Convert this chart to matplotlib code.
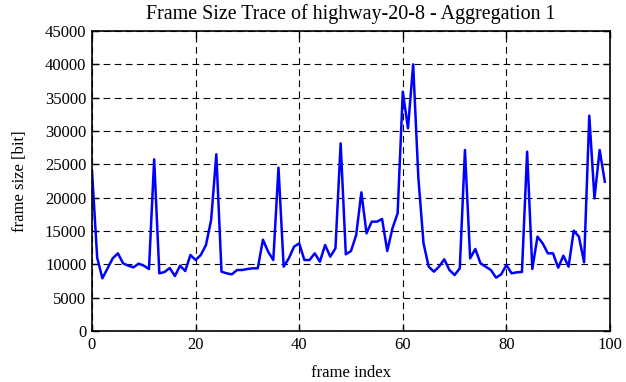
import numpy as np
import matplotlib
matplotlib.use("Agg")
import matplotlib.pyplot as plt

# frame sizes (bits), one per frame index 0..99
frame_size = [
    24000, 11000, 7900, 9400, 10900, 11650, 10150, 9800, 9550, 10100,
    9800, 9300, 25750, 8650, 8850, 9450, 8250, 9800, 9000, 11400,
    10650, 11400, 12900, 16650, 26500, 8900, 8650, 8500, 9150, 9150,
    9300, 9400, 9400, 13700, 11900, 10650, 24500, 9650, 10900, 12650,
    13150, 10650, 10650, 11650, 10400, 12900, 11150, 12400, 28150, 11500,
    12000, 14400, 20800, 14650, 16400, 16400, 16800, 12000, 15400, 17650,
    35900, 30400, 40000, 23000, 13150, 9650, 8900, 9650, 10750, 9150,
    8400, 9400, 27150, 10900, 12300, 10150, 9650, 9150, 8000, 8500,
    9900, 8650, 8800, 8850, 26900, 9300, 14150, 13150, 11650, 11650,
    9500, 11300, 9650, 15050, 14150, 10300, 32300, 19900, 27150, 22400,
]
frame_index = np.arange(len(frame_size))

plt.rcParams['font.family'] = ['Liberation Serif', 'DejaVu Serif']
plt.rcParams['font.size'] = 12

fig = plt.figure(figsize=(6.26, 3.82), dpi=100)
ax = fig.add_axes([92/626, 1-331/382, (610-92)/626, 300/382])

ax.plot(frame_index, frame_size, color='#0000ff', lw=1.8)

ax.set_xlim(0, 100)
ax.set_ylim(0, 45000)
ax.set_xticks(np.arange(0, 101, 20))
ax.set_yticks(np.arange(0, 45001, 5000))
ax.grid(True, color='black', lw=0.8, linestyle=(0, (6, 4)))
ax.tick_params(direction='in', length=5, width=1, top=True, right=True,
               pad=4, labelsize=12)
for s in ax.spines.values():
    s.set_linewidth(1.2)

ax.set_title("Frame Size Trace of highway-20-8 - Aggregation 1", pad=9)
ax.set_xlabel("frame index", labelpad=9)
ax.set_ylabel("frame size [bit]", labelpad=12)

fig.savefig("out.png", dpi=100)
